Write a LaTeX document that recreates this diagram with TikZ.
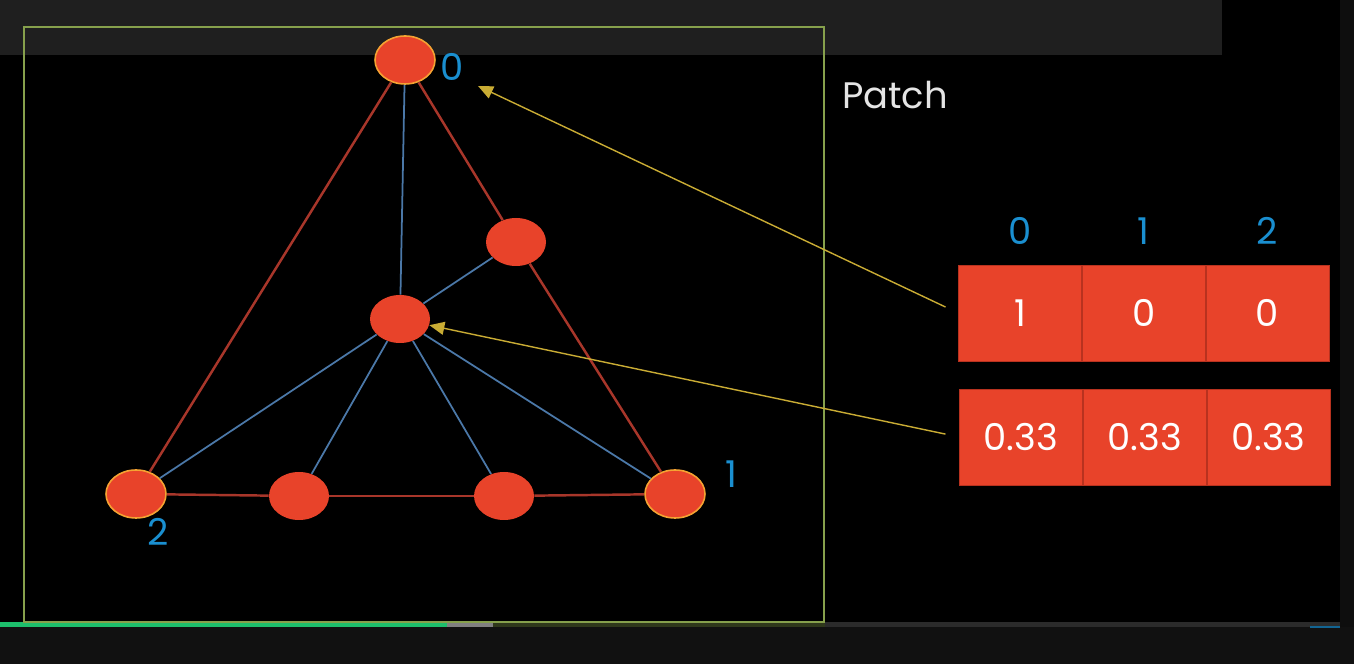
\documentclass[tikz,border=0pt]{standalone}
\usepackage{fontspec}
\setmainfont{Poppins}
\usepackage{tikz}
\usetikzlibrary{arrows.meta,positioning,shapes.geometric}
\definecolor{barbg}{HTML}{1F1F1F}
\definecolor{footbg}{HTML}{111111}
\definecolor{framegreen}{HTML}{86A04C}
\definecolor{dotred}{HTML}{E8432A}
\definecolor{dotrim}{HTML}{F5A332}
\definecolor{edgered}{HTML}{A8362A}
\definecolor{edgeblue}{HTML}{4B78A8}
\definecolor{idxblue}{HTML}{1A8FD0}
\definecolor{pointer}{HTML}{C9AC34}
\definecolor{cellline}{HTML}{B8321F}
\definecolor{playgreen}{HTML}{1DBF6C}

\tikzset{
  vtx/.style={ellipse, fill=dotred, minimum width=1.2cm, minimum height=0.96cm, inner sep=0pt},
  rim/.style={vtx, draw=dotrim, line width=0.9pt},
  redge/.style={edgered, line width=1.4pt},
  bedge/.style={edgeblue, line width=1pt},
  idx/.style={text=idxblue, font=\fontsize{21}{24}\selectfont, inner sep=0pt},
  cell/.style={draw=cellline, fill=dotred, minimum width=2.46cm, minimum height=1.92cm, inner sep=0pt,
    text=white, font=\fontsize{21}{24}\selectfont},
  pointy/.style={pointer, line width=0.8pt, -{Triangle[length=3mm, width=2.6mm]}}
}

\begin{document}
\begin{tikzpicture}[x=0.2mm, y=-0.2mm]
  \useasboundingbox (0,0) rectangle (1354,664);
  % screen background
  \fill[black] (0,0) rectangle (1354,664);
  \fill[barbg] (0,0) rectangle (1222,55);
  \fill[footbg] (0,627) rectangle (1354,664);
  \fill[footbg!80!black] (1340,0) rectangle (1354,627);
  % progress bar
  \fill[playgreen] (0,622) rectangle (447,627);
  \fill[gray] (447,622) rectangle (493,627);
  \fill[framegreen!35!black] (493,622) rectangle (825,627);
  \fill[white!17!black] (825,622) rectangle (1340,627);
  \fill[idxblue!70!black] (1310,626) rectangle (1340,628);

  % patch frame
  \draw[framegreen, line width=1.1pt] (24,27) rectangle (824,622);
  \node[text=white!90!black, font=\fontsize{21}{24}\selectfont, anchor=west] (patch) at (836,95) {Patch};

  % vertices
  \node[rim] (v0) at (405,60) {};
  \node[rim] (v1) at (675,494) {};
  \node[rim] (v2) at (136,494) {};
  \node[vtx] (m01) at (516,242) {};
  \node[vtx] (ctr) at (400,319) {};
  \node[vtx] (b2) at (299,496) {};
  \node[vtx] (b1) at (504,496) {};

  \node[idx] (l0) at (452,67) {0};
  \node[idx] (l1) at (731,474) {1};
  \node[idx] (l2) at (158,532) {2};

  % triangle edges
  \draw[redge] (v0) -- (v2);
  \draw[redge] (v0) -- (m01);
  \draw[redge] (m01) -- (v1);
  \draw[redge] (v2) -- (b2);
  \draw[redge] (b2) -- (b1);
  \draw[redge] (b1) -- (v1);
  % inner edges
  \draw[bedge] (v0) -- (ctr);
  \draw[bedge] (ctr) -- (m01);
  \draw[bedge] (ctr) -- (v2);
  \draw[bedge] (ctr) -- (b2);
  \draw[bedge] (ctr) -- (b1);
  \draw[bedge] (ctr) -- (v1);

  % weight table
  \node[cell] (c00) at (1020,313) {1};
  \node[cell, right=0pt of c00] (c01) {0};
  \node[cell, right=0pt of c01] (c02) {0};
  \node[cell] (c10) at (1021,437) {0.33};
  \node[cell, right=0pt of c10] (c11) {0.33};
  \node[cell, right=0pt of c11] (c12) {0.33};

  \node[idx, above=0.4cm of c00] (h0) {0};
  \node[idx, above=0.4cm of c01] (h1) {1};
  \node[idx, above=0.4cm of c02] (h2) {2};

  % pointers
  \coordinate (tip0) at (478,86);
  \draw[pointy, shorten <=14*0.2mm] (c00.west) -- (tip0);
  \draw[pointy, shorten <=14*0.2mm] (c10.west) -- (ctr);
\end{tikzpicture}
\end{document}
